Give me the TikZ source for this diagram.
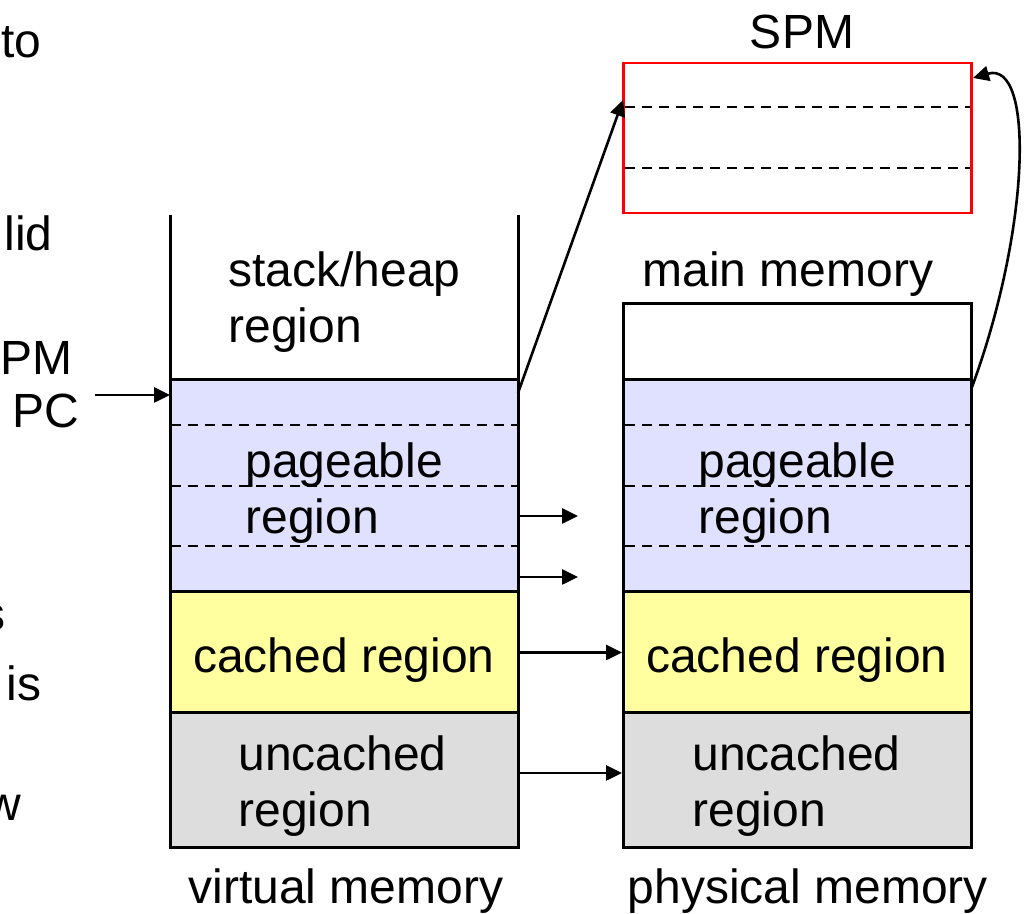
\documentclass[tikz,border=0pt]{standalone}
\usepackage{fontspec}
\setmainfont{Liberation Sans}
\usetikzlibrary{arrows.meta}

\definecolor{pagefill}{RGB}{224,224,255}
\definecolor{cachefill}{RGB}{255,255,160}
\definecolor{uncfill}{RGB}{221,221,221}

\begin{document}
\begin{tikzpicture}[x=0.5pt,y=-0.5pt,
  every node/.style={font=\fontsize{24}{28}\selectfont,inner sep=0pt},
  memblock/.style={draw=black,line width=1.5pt,minimum width=174pt},
  spmblock/.style={draw=red,line width=1.3pt,minimum width=174pt,minimum height=75pt},
  dashline/.style={dash pattern=on 5pt off 3.5pt,line width=1.3pt},
  arr/.style={line width=1.3pt,-{Triangle[length=8pt,width=7.5pt]}}]
  \useasboundingbox (0,0) rectangle (1025,914);
  \clip (0,0) rectangle (1025,914);

  % text cut off at the left
  \node[anchor=east] (frag1) at (42,42) {to};
  \node[anchor=east] (frag2) at (53,233) {lid};
  \node[anchor=east] (frag3) at (73,358) {PM};
  \node[anchor=east] (frag4) at (6,618) {s};
  \node[anchor=east] (frag5) at (42,683) {is};
  \node[anchor=east] (frag6) at (22,808) {w};
  \node[anchor=east] (pc) at (80,411) {PC};

  % virtual memory
  \draw[line width=1.5pt] (170,215) -- (170,380) (518,215) -- (518,380);
  \node[memblock,fill=pagefill,minimum height=106pt] (vpage) at (344,486) {};
  \node[memblock,fill=cachefill,minimum height=60.5pt] (vcache) at (344,652.5) {};
  \node[memblock,fill=uncfill,minimum height=67.5pt] (vunc) at (344,780.5) {};

  % physical memory
  \node[memblock,minimum height=38pt] (pfree) at (797.5,342) {};
  \node[memblock,fill=pagefill,minimum height=106pt] (ppage) at (797.5,486) {};
  \node[memblock,fill=cachefill,minimum height=60.5pt] (pcache) at (797.5,652.5) {};
  \node[memblock,fill=uncfill,minimum height=67.5pt] (punc) at (797.5,780.5) {};

  % SPM
  \node[spmblock] (spm) at (797.5,138) {};

  \foreach \y in {425,486,546}
    {\draw[dashline] (171,\y) -- (517,\y);
     \draw[dashline] (625,\y) -- (970,\y);}
  \foreach \y in {107,168}
    \draw[dashline] (625,\y) -- (970,\y);

  % labels
  \node (spmlabel) at (802,32) {SPM};
  \node (mainlabel) at (788,274) {main memory};
  \node[anchor=west,align=left] (vstacklabel) at (228,302) {stack/heap\\region};
  \node[anchor=west,align=left] (vpagelabel) at (245,493) {pageable\\region};
  \node[anchor=west,align=left] (ppagelabel) at (698,493) {pageable\\region};
  \node (vcachelabel) at (344,660) {cached region};
  \node (pcachelabel) at (797,660) {cached region};
  \node[anchor=west,align=left] (vunclabel) at (238,786) {uncached\\region};
  \node[anchor=west,align=left] (punclabel) at (692,786) {uncached\\region};
  \node (vlabel) at (346,891) {virtual memory};
  \node (plabel) at (808,891) {physical memory};

  % arrows
  \coordinate (pcfrom) at (95,395);
  \coordinate (pcto) at (170,395);
  \coordinate (vtop) at (518,393);
  \coordinate (spmin) at (623,100);
  \coordinate (ptop) at (972,387);
  \coordinate (spmout) at (973,78);
  \coordinate (map1) at (578,516);
  \coordinate (map2) at (578,577);
  \draw[arr] (pcfrom) -- (pcto);
  \draw[arr] (vtop) -- (spmin);
  \draw[arr] (ptop) .. controls (1030,230) and (1035,60) .. (spmout);
  \draw[arr] (vpage.east |- map1) -- (map1);
  \draw[arr] (vpage.east |- map2) -- (map2);
  \draw[arr] (vcache.east) -- (pcache.west);
  \draw[arr] ([yshift=3.75pt]vunc.east) -- ([yshift=3.75pt]punc.west);
\end{tikzpicture}
\end{document}
